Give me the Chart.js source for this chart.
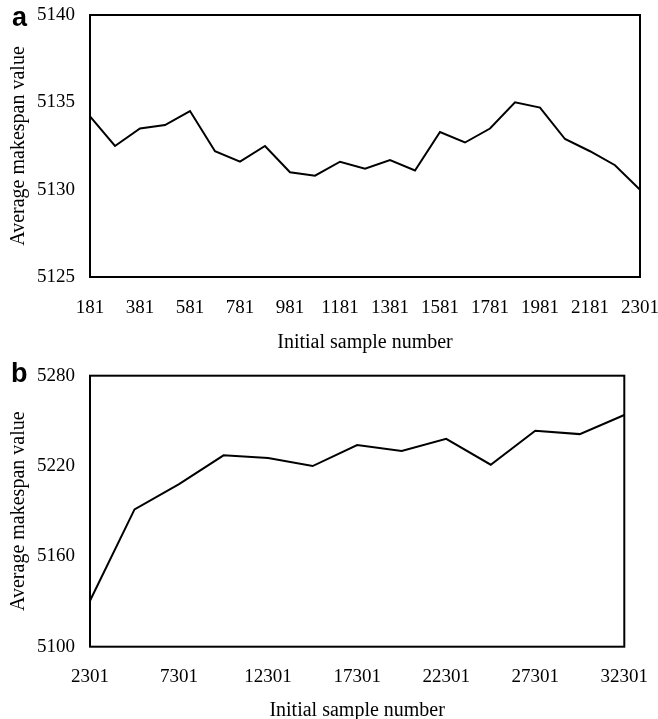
<!DOCTYPE html>
<html><head><meta charset="utf-8">
<script src="https://cdn.jsdelivr.net/npm/chart.js@4"></script>
<style>
html,body{margin:0;padding:0;background:#fff;overflow:hidden}
#wrap{position:relative;width:658px;height:719px}
.panel{position:absolute;left:0;width:658px}
.lbl{position:absolute;font-family:"Liberation Sans",Arial,sans-serif;font-weight:bold;font-size:27px;line-height:27px;color:#000}
</style></head><body>
<div id="wrap">
<div class="panel" style="top:0;height:355px"><canvas id="ca" width="658" height="355"></canvas></div>
<div class="panel" style="top:355px;height:364px"><canvas id="cb" width="658" height="364"></canvas></div>
<div class="lbl" style="left:12px;top:4px">a</div>
<div class="lbl" style="left:11px;top:360px">b</div>
</div>
<script>
// Panel a data
const samplesA = ['181','281','381','481','581','681','781','881','981','1081','1181','1281','1381','1481','1581','1681','1781','1881','1981','2081','2181','2281','2301'];
const makespanA = [5134.2,5132.5,5133.5,5133.7,5134.5,5132.2,5131.6,5132.5,5131.0,5130.8,5131.6,5131.2,5131.7,5131.1,5133.3,5132.7,5133.5,5135.0,5134.7,5132.9,5132.2,5131.4,5130.0];
const xTicksA = ['181','381','581','781','981','1181','1381','1581','1781','1981','2181','2301'];
const yTicksA = [5125,5130,5135,5140];

// Panel b data
const samplesB = ['2301','4801','7301','9801','12301','14801','17301','19801','22301','24801','27301','29801','32301'];
const makespanB = [5130.5,5191.2,5208.0,5227.1,5225.3,5220.0,5233.9,5230.0,5238.1,5220.9,5243.4,5241.2,5253.9];
const xTicksB = ['2301','7301','12301','17301','22301','27301','32301'];
const yTicksB = [5100,5160,5220,5280];

const serif = '"Liberation Serif","Times New Roman",serif';

const framePlugin = {
  id: 'frame',
  afterDatasetsDraw(chart) {
    const {ctx, chartArea: a} = chart;
    ctx.save();
    ctx.strokeStyle = '#000';
    ctx.lineWidth = 2;
    ctx.strokeRect(a.left, a.top, a.right - a.left, a.bottom - a.top);
    ctx.restore();
  }
};

function makeChart(id, labels, values, xTicks, yTicks, cfg) {
  return new Chart(document.getElementById(id), {
    type: 'line',
    data: {
      labels: labels,
      datasets: [{
        data: values,
        borderColor: '#000',
        borderWidth: 2,
        pointRadius: 0,
        tension: 0,
        fill: false
      }]
    },
    plugins: [framePlugin],
    options: {
      responsive: false,
      animation: false,
      events: [],
      layout: {padding: {top: cfg.top, right: cfg.right, left: 0, bottom: 0}},
      plugins: {legend: {display: false}, tooltip: {enabled: false}},
      scales: {
        x: {
          type: 'category',
          offset: false,
          grid: {display: false, drawTicks: false},
          border: {display: false},
          ticks: {
            autoSkip: false, maxRotation: 0, padding: cfg.xPad,
            color: '#000', font: {family: serif, size: 19},
            callback: function(v, i) {
              const l = this.getLabelForValue(v);
              return xTicks.includes(l) ? l : null;
            }
          },
          title: {display: true, text: 'Initial sample number', color: '#000',
                  font: {family: serif, size: 20}, padding: {top: 0, bottom: cfg.titleB}},
          afterFit: s => { s.height = cfg.xH; s.paddingLeft = 0; s.paddingRight = 0; }
        },
        y: {
          min: yTicks[0], max: yTicks[yTicks.length - 1],
          afterBuildTicks: s => { s.ticks = yTicks.map(v => ({value: v})); },
          grid: {display: false, drawTicks: false},
          border: {display: false},
          ticks: {padding: 15, color: '#000', font: {family: serif, size: 19},
                  callback: v => String(v)},
          title: {display: true, text: 'Average makespan value', color: '#000',
                  font: {family: serif, size: 20}, padding: {top: 7, bottom: 0}},
          afterFit: s => { s.width = 90; s.paddingTop = 0; s.paddingBottom = 0; }
        }
      }
    }
  });
}

makeChart('ca', samplesA, makespanA, xTicksA, yTicksA, {top: 15, right: 18, xH: 78, xPad: 20, titleB: 0});
makeChart('cb', samplesB, makespanB, xTicksB, yTicksB, {top: 20.7, right: 33.7, xH: 72.3, xPad: 18.8, titleB: -3.5});
</script>
</body></html>
